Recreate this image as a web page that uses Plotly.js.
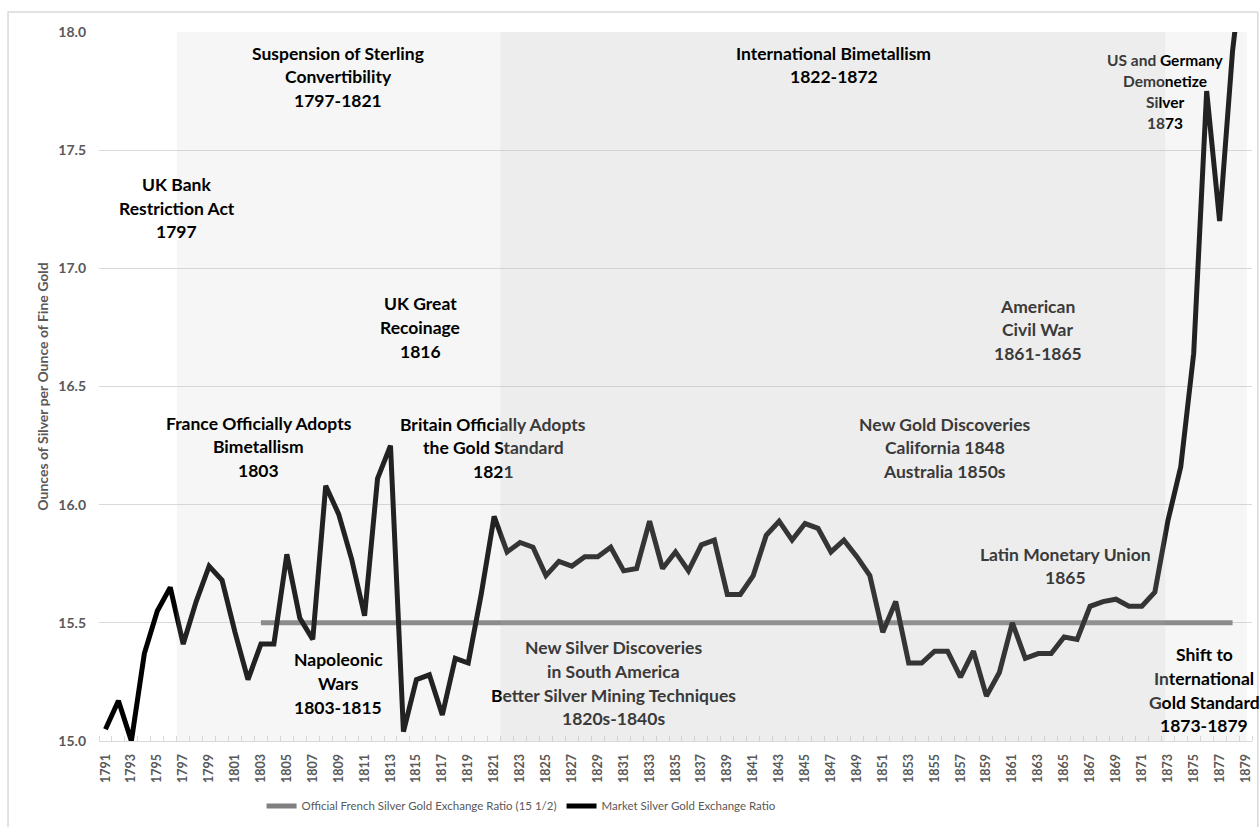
<!DOCTYPE html>
<html>
<head>
<meta charset="utf-8">
<script src="https://cdn.plot.ly/plotly-3.0.1.min.js"></script>
<style>
  html, body { margin: 0; padding: 0; background: #ffffff; }
  #chart { width: 1260px; height: 827px; }
</style>
</head>
<body>
<div id="chart"></div>
<script>
// ---- Data ----
const years = [1791,1792,1793,1794,1795,1796,1797,1798,1799,1800,
  1801,1802,1803,1804,1805,1806,1807,1808,1809,1810,
  1811,1812,1813,1814,1815,1816,1817,1818,1819,1820,
  1821,1822,1823,1824,1825,1826,1827,1828,1829,1830,
  1831,1832,1833,1834,1835,1836,1837,1838,1839,1840,
  1841,1842,1843,1844,1845,1846,1847,1848,1849,1850,
  1851,1852,1853,1854,1855,1856,1857,1858,1859,1860,
  1861,1862,1863,1864,1865,1866,1867,1868,1869,1870,
  1871,1872,1873,1874,1875,1876,1877,1878,1879];

const marketRatio = [15.05,15.17,15.00,15.37,15.55,15.65,15.41,15.59,15.74,15.68,
  15.46,15.26,15.41,15.41,15.79,15.52,15.43,16.08,15.96,15.77,
  15.53,16.11,16.25,15.04,15.26,15.28,15.11,15.35,15.33,15.62,
  15.95,15.80,15.84,15.82,15.70,15.76,15.74,15.78,15.78,15.82,
  15.72,15.73,15.93,15.73,15.80,15.72,15.83,15.85,15.62,15.62,
  15.70,15.87,15.93,15.85,15.92,15.90,15.80,15.85,15.78,15.70,
  15.46,15.59,15.33,15.33,15.38,15.38,15.27,15.38,15.19,15.29,
  15.50,15.35,15.37,15.37,15.44,15.43,15.57,15.59,15.60,15.57,
  15.57,15.63,15.93,16.16,16.64,17.75,17.20,17.92,18.39];

const officialYears = [1803, 1878];
const officialRatio = [15.5, 15.5];

const seriesNames = ["Official French Silver Gold Exchange Ratio (15 1/2)",
                     "Market Silver Gold Exchange Ratio"];

// shaded historical periods (year boundaries)
const periodStart = [1796.5, 1821.5, 1872.8];
const periodEnd   = [1821.5, 1872.8, 1879.1];
const periodShade = ["light", "dark", "light"];

const yTickVals = [15.0, 15.5, 16.0, 16.5, 17.0, 17.5, 18.0];
const xTickVals = years.filter((y, i) => i % 2 === 0);

// ---- Styling ----
const GRAY_TXT = "#3a3a3a";
const FONT = "Lato, 'Open Sans', sans-serif";
function gray(s) { return "<span style='color:" + GRAY_TXT + "'>" + s + "</span>"; }
function black(s) { return "<span style='color:#000000'>" + s + "</span>"; }

const notes = [
  {x: 1796.5, y: 17.255, text: "UK Bank<br>Restriction Act<br>1797", color: "#000"},
  {x: 1808.95, y: 17.81, text: "Suspension of Sterling<br>Convertibility<br>1797-1821", color: "#000"},
  {x: 1847.2, y: 17.86, text: "International Bimetallism<br>1822-1872", color: "#000"},
  {x: 1872.8, y: 17.75, text: gray("US and ") + "Germany<br>" + gray("Demo") + "netize<br>" + gray("Si") + "lver<br>" + gray("18") + "73", color: "#000", small: true},
  {x: 1815.28, y: 16.75, text: "UK Great<br>Recoinage<br>1816", color: "#000"},
  {x: 1862.98, y: 16.74, text: "American<br>Civil War<br>1861-1865", color: GRAY_TXT},
  {x: 1802.85, y: 16.245, text: "France Officially Adopts<br>Bimetallism<br>1803", color: "#000"},
  {x: 1820.95, y: 16.24, text: "Britain Offici" + gray("ally Adopts") + "<br>the Gold S" + gray("tandard") + "<br>182" + gray("1"), color: "#000"},
  {x: 1855.8, y: 16.24, text: "New Gold Discoveries<br>California 1848<br>Australia 1850s", color: GRAY_TXT},
  {x: 1808.95, y: 15.244, text: "Napoleonic<br>Wars<br>1803-1815", color: "#000"},
  {x: 1830.2, y: 15.244, text: "New Silver Discoveries<br>in South America<br>" + black("B") + "etter Silver Mining Techniques<br>1820s-1840s", color: GRAY_TXT},
  {x: 1865.07, y: 15.74, text: "Latin Monetary Union<br>1865", color: GRAY_TXT},
  {x: 1875.8, y: 15.215, text: "Shift to<br>" + gray("In") + "ternational<br>" + gray("G") + "old Standard<br>1873-1879", color: "#000"}
];

const traces = [
  {
    x: officialYears, y: officialRatio, name: seriesNames[0],
    type: "scatter", mode: "lines",
    line: {color: "#7f7f7f", width: 5},
    hoverinfo: "skip"
  },
  {
    x: years, y: marketRatio, name: seriesNames[1],
    type: "scatter", mode: "lines",
    line: {color: "#000000", width: 5},
    hoverinfo: "skip"
  }
];

const shapes = periodStart.map((s, i) => ({
  type: "rect", xref: "x", yref: "paper",
  x0: s, x1: periodEnd[i], y0: 0, y1: 1,
  fillcolor: periodShade[i] === "dark" ? "rgba(190,190,190,0.28)" : "rgba(200,200,200,0.17)",
  line: {width: 0}, layer: "above"
}));
// outer chart border
shapes.push({
  type: "rect", xref: "paper", yref: "paper",
  x0: -0.0789, x1: 1.0050, y0: -0.15, y1: 1.0282,
  line: {color: "#d9d9d9", width: 1.5}, fillcolor: "rgba(0,0,0,0)", layer: "below"
});

// one annotation per text line so the line spacing can match the original
const annotations = [];
notes.forEach(n => {
  const lines = n.text.split("<br>");
  const size = n.small ? 15.5 : 17.5;
  const lh = n.small ? 21 : 23.7;
  lines.forEach((ln, k) => {
    annotations.push({
      x: n.x, y: n.y, xref: "x", yref: "y",
      yshift: ((lines.length - 1) / 2 - k) * lh,
      text: ln, showarrow: false, align: "center",
      xanchor: "center", yanchor: "middle",
      font: {family: FONT, size: size, color: n.color, weight: "bold"}
    });
  });
});

const layout = {
  width: 1260, height: 827,
  margin: {l: 99, r: 8, t: 32, b: 85},
  paper_bgcolor: "#ffffff", plot_bgcolor: "#ffffff",
  showlegend: true,
  legend: {
    orientation: "h", x: 0.141, xanchor: "left", y: -0.09, yanchor: "middle",
    font: {family: "'Liberation Sans Narrow', " + FONT, size: 11.5, color: "#595959"},
    traceorder: "normal", itemwidth: 30
  },
  xaxis: {
    range: [1790.5, 1879.5],
    tickmode: "array", tickvals: xTickVals, ticktext: xTickVals.map(String),
    tickangle: -90, ticks: "", showgrid: false, zeroline: false,
    showline: true, linecolor: "#d9d9d9", linewidth: 1,
    tickfont: {family: FONT, size: 12.5, color: "#595959", weight: "bold"},
    ticklabelstandoff: 7,
    minor: {tick0: 1790.5, dtick: 1, ticks: "inside", ticklen: 5, tickcolor: "#d9d9d9", tickwidth: 1, showgrid: false}
  },
  yaxis: {
    range: [15, 18], tickmode: "array", tickvals: yTickVals,
    ticktext: yTickVals.map(v => v.toFixed(1)),
    showgrid: true, gridcolor: "#d9d9d9", gridwidth: 1,
    zeroline: false, showline: false, ticks: "",
    tickfont: {family: FONT, size: 14, color: "#595959", weight: "bold"},
    ticklabelstandoff: 12,
    title: {text: "Ounces of Silver per Ounce of Fine Gold",
            font: {family: FONT, size: 14, color: "#595959", weight: "bold"}, standoff: 6}
  },
  shapes: shapes,
  annotations: annotations
};

Plotly.newPlot("chart", traces, layout, {displayModeBar: false, staticPlot: true});
</script>
</body>
</html>
